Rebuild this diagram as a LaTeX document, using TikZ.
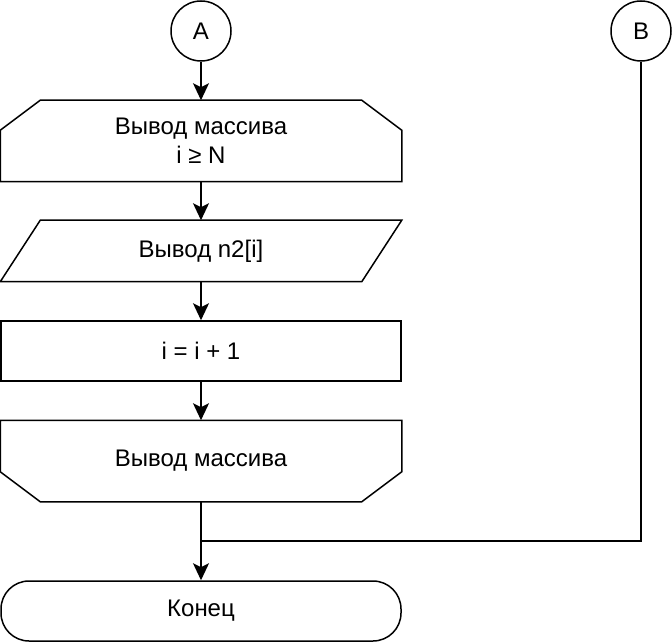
\documentclass[tikz,border=0pt]{standalone}
\usepackage{fontspec}
\setmainfont{Liberation Sans}
\usetikzlibrary{arrows.meta,calc}
\begin{document}
\begin{tikzpicture}[x=1pt,y=-1pt,line width=1.5pt,line join=miter,
  txt/.style={font=\fontsize{24}{29}\selectfont,align=center,text=black},
  shell/.style={txt,rectangle,minimum width=400pt,inner sep=0pt},
  conn/.style={txt,circle,draw,minimum size=60pt,inner sep=0pt},
  arr/.style={-{Stealth[length=17pt,width=16pt,inset=4pt]}}]
\useasboundingbox (0,0) rectangle (672,644);
% connectors A and B
\node[conn] (A) at (201,31) {A};
\node[conn] (B) at (641,31) {B};
% loop start
\node[shell,minimum height=80pt] (lim1) at (201,141) {Вывод массива\\i ≥ N};
\draw (lim1.south west) -- (lim1.south east) -- ($(lim1.north east)+(0,30)$)
  -- ($(lim1.north east)+(-40,0)$) -- ($(lim1.north west)+(40,0)$)
  -- ($(lim1.north west)+(0,30)$) -- cycle;
% output
\node[shell,minimum height=60pt] (io) at (201,251) {Вывод n2[i]};
\draw ($(io.north west)+(40,0)$) -- (io.north east) -- ($(io.south east)+(-40,0)$)
  -- (io.south west) -- cycle;
% process
\node[shell,draw,minimum height=60pt] (proc) at (201,351) {i = i + 1};
% loop end
\node[shell,minimum height=80pt] (lim2) at (201,461) {Вывод массива};
\draw (lim2.north west) -- (lim2.north east) -- ($(lim2.south east)+(0,-30)$)
  -- ($(lim2.south east)+(-40,0)$) -- ($(lim2.south west)+(40,0)$)
  -- ($(lim2.south west)+(0,-30)$) -- cycle;
% terminal
\node[shell,draw,minimum height=60pt,rounded corners=28pt] (term) at (201,611) {Конец};
% arrows
\draw[arr] (A) -- (lim1);
\draw[arr] (lim1) -- (io);
\draw[arr] (io) -- (proc);
\draw[arr] (proc) -- (lim2);
\draw[arr] (lim2) -- (term);
\coordinate (j) at (201,541);
\draw (B.south) |- (j);
\end{tikzpicture}
\end{document}
